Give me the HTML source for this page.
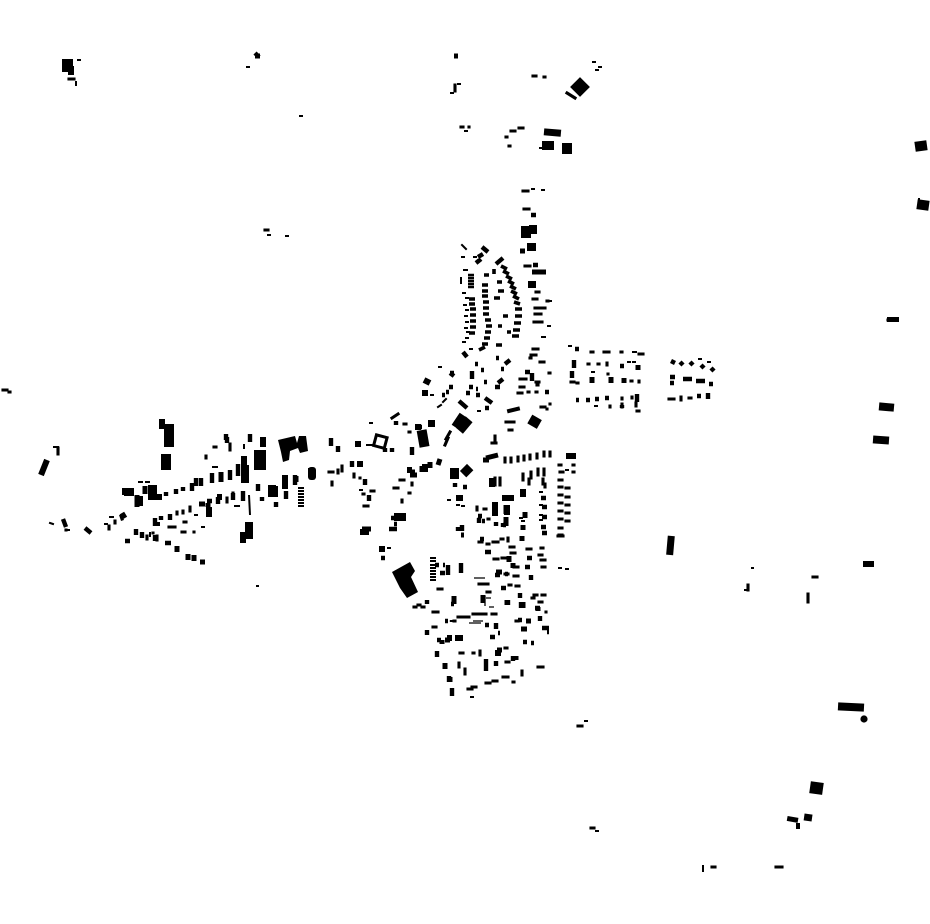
<!DOCTYPE html>
<html><head><meta charset="utf-8"><style>html,body{margin:0;padding:0;background:#fff}svg{display:block}path{fill:none;stroke:#000}.s{stroke-linecap:square}</style></head><body>
<svg width="930" height="924" viewBox="0 0 930 924" xmlns="http://www.w3.org/2000/svg">
<g>
<!-- thin -->
<path stroke-width="1.3" d="M474 578h11M469 623h12M473 621h10M485 596v10M486 598h5M489 607h5"/>
<path class="s" stroke-width="2" d="M532 189h2M542 190h2M549 301h2M548 326h2M542 337h3M461 278v5M464 270h3M462 245l4 4M462 257h2M474 257h2M463 293h2M466 298h2M464 305h2M466 310h2M465 316h2M466 322h2M465 328h2M467 332h2M463 342h2M466 338h2M470 349h2M439 367h2M431 395h2M443 402l3 -3M438 407l3 -2M478 411h2M367 445h6M370 423h2M569 346h2M633 352h3M628 362h2M633 362h2M592 372h2M595 406h2M699 359h2M708 362h2M448 500h2M457 505h2M462 506h2M388 548h2M566 470h2M540 492h2M540 505h2M540 515h2M520 518h2M540 520h2M522 521h2M559 568h2M566 569h2M139 482h3M146 482h3M244 445v3M195 515h2M202 527h2M150 533v3M213 467h4M235 506h4M360 490h2M471 697h2M54 447h4M50 523l3 1M67 530h2M110 517h3M105 524h2M78 60h2M76 82v3M247 67h2M300 116h2M451 93h2M458 84h2M593 62h2M599 67h2M596 70h2M465 131h2M540 148h3M268 235h2M286 236h2M257 586h1M752 568h1M745 590h2M596 831h2M585 721h2M919 199v4M703 866v5"/>
<path stroke-width="2" d="M249 495l1 20M430 558h6M430 561h6M430 565h6M430 568h6M430 571h6M430 574h6M430 577h6M430 580h6M298 488h6M298 491h6M298 494h6M298 497h6M298 500h6M298 503h6M298 506h6"/>
<!-- sw3 -->
<path class="s" stroke-width="3.1" d="M523 191h5M524 209h5M525 266h5M536 292h3M533 299h4M547 301h1M535 308h10M535 314h6M534 322h8M533 349h5M531 355h5M530 358h1M540 362h4M549 373h1M520 379h6M536 382h3M537 385h1M520 387h4M518 393h4M528 392h1M536 392h1M541 407h4M550 404h0M547 409h0M506 422h8M509 430h3M392 418l6 -4M404 424h2M409 432h1M400 480h4M412 483v2M394 488h4M409 493h1M402 500v2M446 439l4 -7M445 445l3 -7M495 436v5M492 443h4M591 352h2M604 352h5M621 352h1M639 354h4M588 364h1M598 364h1M607 363v2M608 374h0M571 382h3M577 383h1M631 381h1M639 381v1M622 398v1M632 397v1M610 406v1M622 404v3M636 403v3M637 411h2M669 399h5M681 397v3M689 398h2M505 462v-4M511 462v-4M518 461v-4M524 460v-4M530 459v-4M537 458v-4M544 456v-4M550 456v-4M559 465h2M560 472h3M573 465h1M573 472h1M559 480h3M559 487h3M559 495h3M559 503h3M559 511h3M559 519h3M559 528h3M559 535h3M566 488h3M566 497h3M566 505h3M566 513h3M566 521h3M558 536h5M495 478v7M500 478v7M523 474v6M531 472v6M538 469v6M544 469v6M529 479v5M543 479v5M545 484v3M477 507v3M484 509h2M488 519h1M479 542h3M487 544h2M493 542h5M501 539h2M508 538v3M510 547h4M511 553h4M494 559h4M502 558h3M514 567h4M505 574h3M514 576h4M527 549h4M541 548h2M539 555h3M541 560h4M542 567h3M438 589h4M479 584h9M487 592h3M433 612h5M422 607h2M414 607h2M418 605h2M458 617h11M473 614h8M454 621h1M433 627h3M492 614h4M484 614h2M516 621h2M534 595h3M542 595h3M532 598h2M539 602h3M546 612h0M509 585h2M516 586h3M460 653h3M473 653h1M480 651v4M505 648h2M506 662h3M459 663v4M465 669v5M468 689h4M472 687h4M486 683h4M493 681h4M503 677h5M513 682h1M522 671v4M538 667h5M230 444v6M214 447h2M206 456v2M233 493v5M227 498v4M190 507v4M183 511v2M177 512v2M153 533h0M194 532h0M169 527h2M173 527h2M184 522h2M182 532h3M157 536v4M147 536v3M364 506h4M371 491h3M329 472h4M338 470v3M342 471v-5M332 482v3M354 474v3M360 478h0M363 494h1M109 526v3M115 521v2M121 516l1 3M66 530h0M58 448v6M69 79h5M455 85v6M533 76h3M544 77h1M567 93l8 5M461 127h2M469 127h0M511 131h4M519 128h4M506 137h1M509 146h1M888 320h4M591 828h3M578 726h4M265 230h3M3 390h4M9 392h1M776 867h6M712 867h3M813 577h4M808 594v8M748 585v5"/>
<!-- sw4 misc -->
<path stroke-width="4.4" d="M531 215h5M533 265h5M525 372h5M532 373v8M545 392h4M496 264l7 -6M476 263l5 -4M478 257l5 -3M482 247l6 5M463 352l4 5M472 371v8M475 364h3M481 370h3M484 382h3M495 387h5M498 383l5 -4M505 364l5 -4M496 358h3M501 369h3M450 373h4M450 373l4 3M449 387h4M446 392h3M442 395h3M469 387h4M476 389h2M466 393h4M476 395h4M485 398l7 5M459 401l8 7M485 408h4M396 421v4M417 427h5M430 423h4M575 349h4M574 360v8M620 366h4M572 371v7M576 400h3M586 400h4M595 399h4M605 398h4M637 394v8M622 405v3M671 361l4 2M680 362l3 3M690 362l3 3M701 365l3 3M711 368l3 3M670 377h5M683 379h9M696 381h9M709 384h4M670 383h4M697 396h4M708 393v6M541 498h5M542 507h5M542 517h5M541 527h5M542 533h5M455 483v4M463 487h4M456 498h6M391 518h6M389 529h8M394 524h3M381 558h4M412 447v8M385 448v4M392 448v4M477 520h3M482 521h3M478 516h4M479 518v5M496 522v4M503 523v4M458 527v4M462 525v6M480 539h4M485 552h6M495 575h5M503 525h3M505 574h3M527 558h5M525 567h5M531 575v5M435 565h4M443 565h2M440 573h5M448 565v10M461 563v10M427 600v4M427 630v5M445 621h3M452 622v-2M451 604h3M490 637h5M485 625h4M496 623v6M498 633h2M520 593v5M535 608h5M518 620h4M540 616v5M542 628h7M547 632h2M523 642h4M531 643h3M437 640h4M437 651v6M486 659v12M496 661v5M513 656v5M449 676v6M452 688v8M501 588h5M508 600v5M521 602v6M227 437v6M226 434v6M250 434v8M243 491v10M218 497v7M176 489v5M183 487v4M192 483v8M196 478v8M201 478v8M212 473v10M230 470v10M238 464v12M170 514v6M161 516v4M155 518v8M136 529v6M142 532v6M155 535v6M125 541h5M165 543h6M166 492v4M286 491v8M295 475v10M262 497v4M258 484v7M276 502v5M233 493v7M207 501h5M338 446v6M331 438v8M352 461v6M365 479v6M369 495v6M63 519l3 8M85 528l6 5M255 53l4 4"/>
<!-- curved rows, bars -->
<path stroke-width="3.6" d="M469 299h6M469 304h6M470 309h6M470 315h6M470 321h6M470 327h6M469 333h6M482 285h6M482 291h6M482 296h6M483 302h6M483 308h6M483 314h6M485 320h6M486 326h6M485 332h6M484 338h6M482 344h6M479 350l6 -3M501 266l6 3M503 271l6 3M506 276l6 3M508 281l6 3M510 286l6 3M511 291l6 3M513 296l6 3M514 302l6 2M515 309h7M515 316h7M514 323h7M513 330h7M512 336h7M484 275h5M494 269v5M497 282h5M498 291h6M494 298h6M503 316h5M498 326h4M507 332h4M496 345h6"/>
<path stroke-width="2.6" d="M468 275h6M468 278h6M468 281h6M468 284h6M468 287h6"/>
<!-- sw5 -->
<path stroke-width="5" d="M532 272h14M520 251h5M592 377v6M611 377v6M624 378v5M638 365v5M486 458l12 -3M483 460h6M410 472h5M410 475h7M422 466v6M430 462v6M440 459l-2 6M506 505v9M506 517v9M461 535h3M525 512v6M523 525v5M522 536v5M509 556v6M513 563v5M496 572h6M507 600v5M523 602v6M454 596v8M483 595v8M538 607v4M521 629h6M442 640v4M445 640h5M516 656v4M497 650h5M445 663v6M450 677v5M526 621h5M137 495v12M145 486v8M221 472v10M208 503v4M199 504h6M188 554v6M194 555v6M200 562h5M177 546v6M362 529h9M296 476v6M122 513l3 5M454 56h4M255 56h5"/>
<path stroke-width="6" d="M47 460l-6 15"/>
<!-- sw6 -->
<path stroke-width="6" d="M422 393h6M424 380l6 3M360 532h9M382 546v6M566 456h10M492 478v9M505 495v6M511 495v6M523 489v8M495 502v14M507 505v10M456 498h7M447 638h5M455 638h8M498 650v6M425 464v8M407 470h5M159 500v-6M209 507v10M217 497h5M157 522v4M285 475v14M311 468v9M355 444h6M360 461v6M162 419v10M275 486v11M263 437v10M243 533v10"/>
<!-- sw8 -->
<path stroke-width="8" d="M463 415l-8 12M153 487v12M272 485v12M124 492h10M139 496v10M245 465v18"/>
</g>
<g fill="#000">
<rect x="521" y="226" width="10" height="12"/><rect x="529" y="225" width="8" height="9"/><rect x="527" y="243" width="9" height="8"/>
<rect x="528" y="281" width="8" height="7"/><rect x="164" y="424" width="10" height="23"/><rect x="161" y="454" width="10" height="16"/>
<rect x="122" y="488" width="11" height="7"/><rect x="148" y="485" width="9" height="15"/><rect x="254" y="450" width="12" height="20"/>
<rect x="241" y="456" width="6" height="22"/><rect x="245" y="522" width="8" height="17"/><rect x="240" y="532" width="6" height="11"/>
<rect x="268" y="485" width="7" height="12"/><rect x="308" y="467" width="8" height="13" rx="3"/><rect x="667" y="536" width="7" height="19" transform="rotate(5 671 545)"/>
<rect x="915" y="141" width="12" height="10" transform="rotate(-8 921 146)"/><rect x="917" y="200" width="12" height="10" transform="rotate(8 923 205)"/>
<rect x="887" y="317" width="12" height="5"/><rect x="879" y="403" width="15" height="8" transform="rotate(5 886 407)"/><rect x="873" y="436" width="16" height="8" transform="rotate(4 881 440)"/>
<rect x="863" y="561" width="11" height="6"/><rect x="838" y="703" width="26" height="8" transform="rotate(3 851 707)"/><circle cx="864" cy="719" r="3.6"/>
<rect x="810" y="782" width="13" height="12" transform="rotate(8 816 788)"/><rect x="787" y="817" width="11" height="5" transform="rotate(10 793 820)"/><rect x="804" y="814" width="8" height="7" transform="rotate(8 808 818)"/><rect x="796" y="823" width="4" height="6"/>
<rect x="573" y="80" width="14" height="14" transform="rotate(-45 580 87)"/><rect x="544" y="129" width="17" height="7" transform="rotate(5 552 132)"/><rect x="542" y="141" width="12" height="9"/><rect x="562" y="143" width="10" height="11"/>
<rect x="62" y="59" width="11" height="13"/><rect x="68" y="66" width="6" height="9"/>
<rect x="394" y="513" width="12" height="8"/>
<rect x="418" y="430" width="10" height="17" transform="rotate(-10 423 438)"/><rect x="415" y="424" width="6" height="6"/><rect x="428" y="420" width="7" height="7"/>
<rect x="460" y="418" width="9" height="15" transform="rotate(40 465 425)"/>
<rect x="529" y="417" width="11" height="10" transform="rotate(30 535 422)"/>
<rect x="507" y="408" width="13" height="4" transform="rotate(-14 513 410)"/>
<polygon points="392,572 410,562 415,571 411,577 418,592 407,598 400,588"/>
<polygon points="278,440 295,436 297,443 299,436 306,436 308,451 300,453 298,448 290,451 289,460 283,462 281,452"/>
<rect x="375" y="436" width="11" height="11" fill="none" stroke="#000" stroke-width="3" transform="rotate(15 380 441)"/>
<rect x="450" y="468" width="9" height="11"/><rect x="462" y="466" width="9" height="10" transform="rotate(45 467 471)"/>
</g>
</svg>
</body></html>
